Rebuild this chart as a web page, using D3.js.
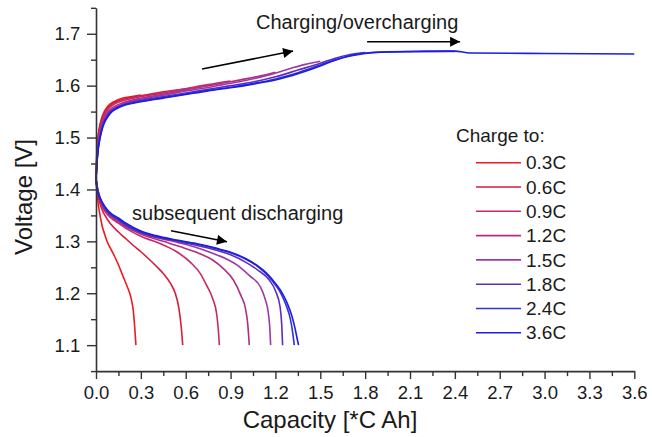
<!DOCTYPE html>
<html><head><meta charset="utf-8">
<script src="https://cdn.jsdelivr.net/npm/d3@7"></script>
<style>body{margin:0;background:#fff}svg{display:block}text{font-family:"Liberation Sans",Arial,sans-serif;fill:#1a1a1a}</style>
</head><body>
<div id="chart"></div>
<script>
const seriesLabels = ["0.3C","0.6C","0.9C","1.2C","1.5C","1.8C","2.4C","3.6C"];
const xTickLabels = ["0.0","0.3","0.6","0.9","1.2","1.5","1.8","2.1","2.4","2.7","3.0","3.3","3.6"];
const yTickLabels = ["1.1","1.2","1.3","1.4","1.5","1.6","1.7"];

const charge03 = [[0,1.42],[0.004,1.46],[0.01,1.49],[0.02,1.515],[0.035,1.535],[0.055,1.55],[0.08,1.561],[0.12,1.569],[0.18,1.576],[0.24,1.579],[0.3,1.582]];
const charge06 = [[0,1.42],[0.004,1.455],[0.01,1.487],[0.02,1.512],[0.035,1.532],[0.055,1.547],[0.08,1.558],[0.12,1.567],[0.18,1.574],[0.25,1.578],[0.35,1.583],[0.45,1.588],[0.6,1.594]];
const charge09 = [[0,1.42],[0.005,1.455],[0.012,1.485],[0.022,1.51],[0.037,1.53],[0.057,1.545],[0.085,1.556],[0.12,1.564],[0.18,1.571],[0.25,1.576],[0.35,1.581],[0.45,1.586],[0.6,1.594],[0.75,1.602],[0.9,1.609]];
const charge12 = [[0,1.42],[0.005,1.452],[0.012,1.482],[0.024,1.507],[0.04,1.527],[0.06,1.542],[0.09,1.553],[0.13,1.561],[0.19,1.568],[0.27,1.574],[0.4,1.581],[0.55,1.589],[0.7,1.597],[0.85,1.605],[1.0,1.613],[1.1,1.619],[1.2,1.626]];
const charge15 = [[0,1.42],[0.005,1.45],[0.013,1.48],[0.025,1.505],[0.042,1.525],[0.063,1.54],[0.093,1.551],[0.135,1.559],[0.19,1.566],[0.27,1.572],[0.4,1.579],[0.55,1.587],[0.7,1.594],[0.85,1.602],[1.0,1.61],[1.15,1.62],[1.3,1.633],[1.4,1.641],[1.5,1.647]];
const charge18 = [[0,1.42],[0.006,1.45],[0.014,1.479],[0.026,1.503],[0.043,1.523],[0.066,1.538],[0.096,1.55],[0.14,1.558],[0.2,1.565],[0.3,1.572],[0.45,1.579],[0.6,1.586],[0.75,1.593],[0.9,1.6],[1.05,1.607],[1.2,1.617],[1.35,1.63],[1.5,1.643],[1.6,1.653],[1.7,1.66],[1.8,1.664]];
const charge24 = [[0,1.42],[0.006,1.45],[0.015,1.478],[0.027,1.501],[0.044,1.521],[0.068,1.537],[0.098,1.549],[0.14,1.557],[0.2,1.564],[0.3,1.57],[0.45,1.577],[0.6,1.584],[0.75,1.591],[0.9,1.597],[1.05,1.604],[1.2,1.613],[1.35,1.625],[1.5,1.64],[1.6,1.65],[1.7,1.658],[1.8,1.663],[1.95,1.665],[2.2,1.666],[2.4,1.666]];
const charge36 = [[0,1.42],[0.006,1.45],[0.015,1.478],[0.028,1.5],[0.045,1.52],[0.07,1.536],[0.1,1.548],[0.14,1.556],[0.2,1.563],[0.3,1.569],[0.45,1.576],[0.6,1.583],[0.75,1.59],[0.9,1.596],[1.05,1.603],[1.2,1.611],[1.35,1.623],[1.5,1.638],[1.6,1.649],[1.7,1.657],[1.8,1.662],[1.95,1.665],[2.2,1.666],[2.4,1.6665],[2.5,1.663],[3.0,1.662],[3.6,1.661]];

const discharge03 = [[0,1.42],[0.01,1.385],[0.03,1.345],[0.07,1.303],[0.116,1.276],[0.15,1.255],[0.183,1.231],[0.21,1.212],[0.235,1.19],[0.25,1.165],[0.26,1.13],[0.267,1.1]];
const discharge06 = [[0,1.42],[0.01,1.395],[0.03,1.37],[0.06,1.35],[0.1,1.333],[0.15,1.318],[0.2,1.305],[0.25,1.292],[0.3,1.28],[0.35,1.267],[0.4,1.253],[0.45,1.238],[0.5,1.218],[0.53,1.2],[0.555,1.17],[0.57,1.135],[0.58,1.1]];
const discharge09 = [[0,1.42],[0.01,1.397],[0.03,1.375],[0.06,1.358],[0.1,1.345],[0.15,1.335],[0.2,1.325],[0.3,1.31],[0.45,1.293],[0.55,1.278],[0.63,1.26],[0.7,1.237],[0.74,1.215],[0.78,1.19],[0.807,1.16],[0.818,1.13],[0.825,1.1]];
const discharge12 = [[0,1.42],[0.01,1.4],[0.03,1.378],[0.06,1.36],[0.1,1.348],[0.15,1.338],[0.2,1.328],[0.3,1.314],[0.45,1.3],[0.56,1.29],[0.68,1.278],[0.78,1.264],[0.85,1.248],[0.92,1.225],[0.97,1.195],[1.0,1.17],[1.015,1.14],[1.025,1.1]];
const discharge15 = [[0,1.42],[0.01,1.402],[0.03,1.38],[0.06,1.362],[0.1,1.35],[0.15,1.34],[0.2,1.33],[0.3,1.316],[0.5,1.301],[0.65,1.29],[0.78,1.277],[0.88,1.265],[0.96,1.251],[1.03,1.233],[1.1,1.212],[1.13,1.19],[1.153,1.161],[1.163,1.13],[1.168,1.1]];
const discharge18 = [[0,1.42],[0.01,1.403],[0.03,1.382],[0.06,1.363],[0.1,1.351],[0.15,1.341],[0.2,1.331],[0.3,1.317],[0.55,1.3],[0.75,1.287],[0.9,1.274],[1.0,1.26],[1.08,1.245],[1.16,1.225],[1.2,1.205],[1.231,1.174],[1.242,1.14],[1.248,1.1]];
const discharge24 = [[0,1.425],[0.005,1.405],[0.015,1.39],[0.03,1.38],[0.06,1.365],[0.1,1.352],[0.15,1.343],[0.2,1.333],[0.3,1.318],[0.4,1.31],[0.55,1.301],[0.7,1.293],[0.8,1.286],[0.9,1.278],[1.0,1.266],[1.08,1.252],[1.15,1.234],[1.2,1.216],[1.24,1.198],[1.27,1.178],[1.3,1.15],[1.315,1.125],[1.326,1.1]];
const discharge36 = [[0,1.425],[0.005,1.407],[0.015,1.392],[0.03,1.382],[0.06,1.367],[0.1,1.354],[0.15,1.345],[0.2,1.335],[0.3,1.32],[0.4,1.311],[0.55,1.302],[0.7,1.294],[0.8,1.287],[0.9,1.279],[1.0,1.267],[1.08,1.253],[1.15,1.236],[1.2,1.219],[1.25,1.198],[1.28,1.18],[1.31,1.156],[1.333,1.13],[1.347,1.11],[1.355,1.1]];

const chargeSeries = [charge03,charge06,charge09,charge12,charge15,charge18,charge24,charge36];
const dischargeSeries = [discharge03,discharge06,discharge09,discharge12,discharge15,discharge18,discharge24,discharge36];
const palette = ["#ec1c24","#d91a3c","#c82a64","#b22e84","#9c3aa4","#5e2cc0","#3232d2","#1e1ede"];

const W = 652, H = 437;
const svg = d3.select("#chart").append("svg").attr("width", W).attr("height", H);

const x = d3.scaleLinear().domain([0, 3.6]).range([96, 634.3]);
const y = d3.scaleLinear().domain([1.05, 1.75]).range([371.1, 7.8]);

const line = d3.line().x(d => x(d[0])).y(d => y(d[1])).curve(d3.curveMonotoneX);

const plot = svg.append("g");
chargeSeries.forEach((s, i) => {
  plot.append("path").attr("d", line(s)).attr("fill", "none").attr("stroke", palette[i]).attr("stroke-width", 1.6);
});
dischargeSeries.forEach((s, i) => {
  plot.append("path").attr("d", line(s)).attr("fill", "none").attr("stroke", palette[i]).attr("stroke-width", 1.6);
});

// axes
const axisColor = "#333";
const xMajor = xTickLabels.map(Number);
const xMinor = d3.range(0, 12).map(i => +(0.15 + i * 0.3).toFixed(2));
const yMajor = yTickLabels.map(Number);
const yMinor = d3.range(0, 8).map(i => +(1.05 + i * 0.1).toFixed(2));

const gx = svg.append("g").attr("transform", `translate(0,${y(1.05)})`)
  .call(d3.axisBottom(x).tickValues(xMajor).tickSize(8).tickSizeOuter(0).tickFormat((d, i) => xTickLabels[i]));
const gxm = svg.append("g").attr("transform", `translate(0,${y(1.05)})`)
  .call(d3.axisBottom(x).tickValues(xMinor).tickSize(5).tickSizeOuter(0).tickFormat(""));
gxm.select(".domain").remove();
const gy = svg.append("g").attr("transform", `translate(${x(0)},0)`)
  .call(d3.axisLeft(y).tickValues(yMajor).tickSize(9).tickSizeOuter(0).tickFormat((d, i) => yTickLabels[i]));
const gym = svg.append("g").attr("transform", `translate(${x(0)},0)`)
  .call(d3.axisLeft(y).tickValues(yMinor).tickSize(5).tickSizeOuter(0).tickFormat(""));
gym.select(".domain").remove();

[gx, gxm, gy, gym].forEach(g => {
  g.selectAll(".domain").attr("stroke", axisColor).attr("stroke-width", 1.6);
  g.selectAll(".tick line").attr("stroke", axisColor).attr("stroke-width", 1.4);
  g.selectAll("text").attr("font-size", 18.5).attr("font-family", "Liberation Sans, Arial, sans-serif").attr("fill", "#1a1a1a");
});
gx.selectAll(".tick text").attr("dy", "0.9em");
gy.selectAll(".tick text").attr("dx", "-0.2em");

// axis titles
svg.append("text").attr("x", 330).attr("y", 428).attr("text-anchor", "middle")
  .attr("font-size", 24).text("Capacity [*C Ah]");
svg.append("text").attr("transform", `translate(32,197) rotate(-90)`).attr("text-anchor", "middle")
  .attr("font-size", 24).text("Voltage [V]");

// annotations
const defs = svg.append("defs");
defs.append("marker").attr("id", "ah").attr("viewBox", "0 0 10 10").attr("refX", 10).attr("refY", 5)
  .attr("markerWidth", 14).attr("markerHeight", 10).attr("markerUnits", "userSpaceOnUse").attr("orient", "auto")
  .append("path").attr("d", "M0,0 L10,5 L0,10 Z").attr("fill", "#000");

const arrows = [
  [[0.709, 1.632], [1.318, 1.6667]],
  [[1.813, 1.6846], [2.435, 1.6846]],
  [[0.502, 1.3204], [0.876, 1.2992]]
];
arrows.forEach(a => {
  svg.append("line").attr("x1", x(a[0][0])).attr("y1", y(a[0][1])).attr("x2", x(a[1][0])).attr("y2", y(a[1][1]))
    .attr("stroke", "#000").attr("stroke-width", 1.6).attr("marker-end", "url(#ah)");
});
svg.append("text").attr("x", x(1.07)).attr("y", y(1.7225)).attr("dy", "0.35em").attr("font-size", 20).text("Charging/overcharging");
svg.append("text").attr("x", x(0.241)).attr("y", y(1.3545)).attr("dy", "0.35em").attr("font-size", 20).text("subsequent discharging");

// legend
const lg = svg.append("g");
lg.append("text").attr("x", 456).attr("y", 135).attr("dy", "0.35em").attr("font-size", 19).text("Charge to:");
seriesLabels.forEach((lab, i) => {
  const yy = 162.7 + i * 24.3;
  lg.append("line").attr("x1", 476).attr("x2", 521).attr("y1", yy).attr("y2", yy).attr("stroke", palette[i]).attr("stroke-width", 1.6);
  lg.append("text").attr("x", 526).attr("y", yy).attr("dy", "0.35em").attr("font-size", 19).text(lab);
});
</script>
</body></html>
